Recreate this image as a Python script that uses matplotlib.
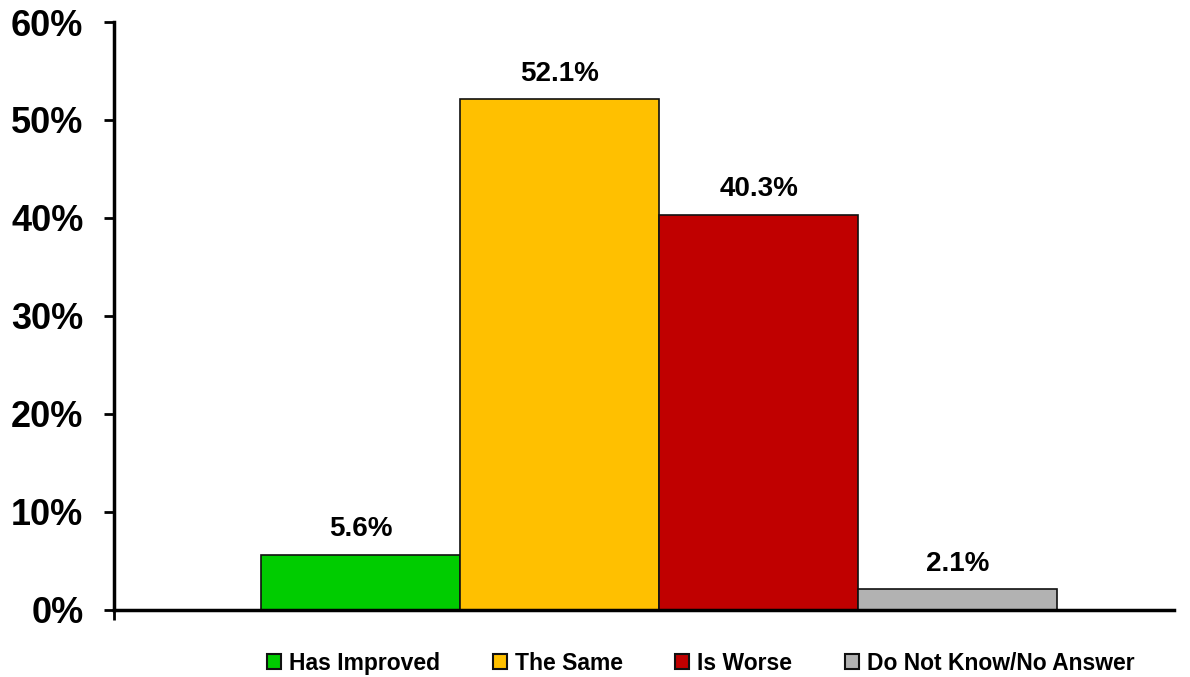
import matplotlib

matplotlib.use("Agg")
import matplotlib.pyplot as plt
from matplotlib.ticker import FuncFormatter

plt.rcParams["font.family"] = ["Liberation Sans", "DejaVu Sans"]
plt.rcParams["font.weight"] = "bold"

CATEGORIES = ["Has Improved", "The Same", "Is Worse", "Do Not Know/No Answer"]
VALUES = [5.6, 52.1, 40.3, 2.1]
COLORS = ["#00CC00", "#FFC000", "#C00000", "#B2B2B2"]
YTICKS = [0, 10, 20, 30, 40, 50, 60]

fig = plt.figure(figsize=(11.9, 6.77), dpi=100)
ax = fig.add_axes([0.0958, 0.099, 0.891, 0.8685])

xs = list(range(len(VALUES)))
ax.bar(xs, VALUES, width=1.0, color=COLORS, edgecolor="#111111",
       linewidth=1.2, label=CATEGORIES)
for x, v in zip(xs, VALUES):
    ax.text(x, v + 1.3, f"{v:.1f}%", ha="center", va="bottom",
            fontsize=20, fontweight="bold")

ax.set_xlim(-1.241, 4.09)
ax.set_ylim(0, 60)
ax.set_yticks(YTICKS)
ax.yaxis.set_major_formatter(FuncFormatter(lambda v, _: f"{v:.0f}%"))
ax.tick_params(axis="y", labelsize=26, width=2, length=7, pad=15)
ax.set_xticks([-1.241])
ax.set_xticklabels([""])
ax.tick_params(axis="x", width=2, length=7)
for s in ("top", "right"):
    ax.spines[s].set_visible(False)
for s in ("left", "bottom"):
    ax.spines[s].set_linewidth(2.5)

handles = [plt.Rectangle((0, 0), 1, 1, facecolor=c, edgecolor="#111111", lw=1.5)
           for c in COLORS]
fig.legend(handles, CATEGORIES, loc="lower center", bbox_to_anchor=(0.589, -0.027),
           ncol=4, frameon=False, fontsize=16.5, handlelength=0.6, handleheight=0.6,
           handletextpad=0.35, columnspacing=2.3)

fig.savefig("out.png", dpi=100)
